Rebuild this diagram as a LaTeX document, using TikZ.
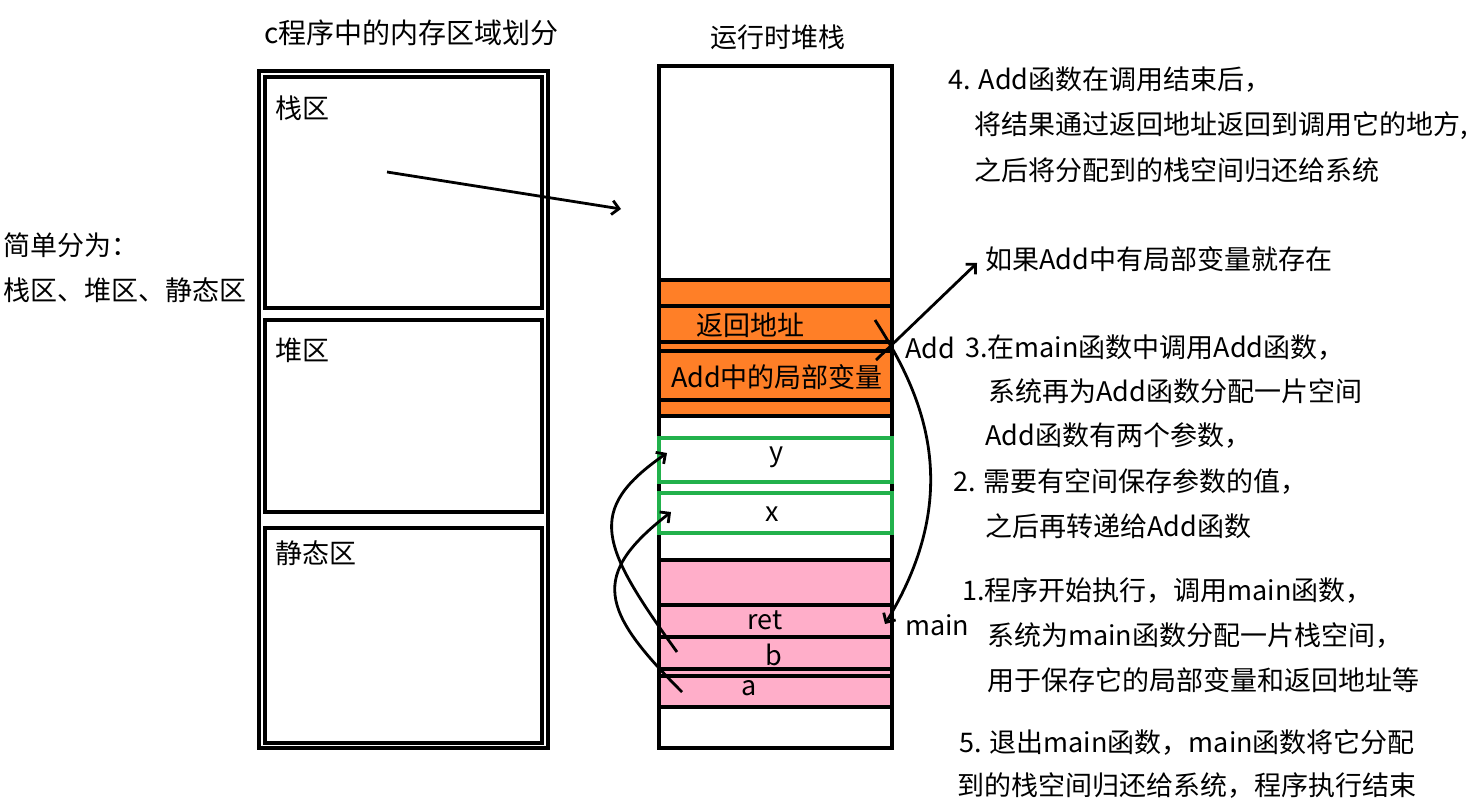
\documentclass[tikz,border=0pt]{standalone}
\usepackage{fontspec}
\setmainfont{Noto Sans CJK SC}
\usetikzlibrary{arrows.meta}
\definecolor{addorange}{RGB}{255,127,39}
\definecolor{mainpink}{RGB}{255,174,201}
\definecolor{paramgreen}{RGB}{34,177,76}
\begin{document}
\begin{tikzpicture}[x=1pt,y=-1pt,
  txt/.style={anchor=west,inner sep=0pt,font=\fontsize{27}{31}\selectfont},
  ctxt/.style={anchor=center,inner sep=0pt,font=\fontsize{27}{31}\selectfont},
  frame/.style={draw=black,line width=3.4pt},
  sep/.style={draw=black,line width=3.4pt},
  gbox/.style={draw=paramgreen,line width=3.2pt},
  conn/.style={draw=black,line width=2.8pt,-{Straight Barb[length=7pt,width=14pt]}},
]
\useasboundingbox (0,0) rectangle (1474,808);
% memory regions
\draw[frame] (259,71) rectangle (548,748);
\draw[frame] (265,77) rectangle (542,308);
\draw[frame] (265,320) rectangle (542,512);
\draw[frame] (265,528) rectangle (542,743);
\node[txt,font=\fontsize{28}{32}\selectfont] (title1) at (264,33) {c程序中的内存区域划分};
\node[txt] (zhan) at (275,108) {栈区};
\node[txt] (dui) at (275,350) {堆区};
\node[txt] (jingtai) at (275,553) {静态区};
\node[txt] (simple1) at (3,245) {简单分为：};
\node[txt] (simple2) at (3,290) {栈区、堆区、静态区};
% runtime stack
\fill[addorange] (659,280) rectangle (892,416);
\fill[mainpink] (659,560) rectangle (892,707);
\draw[frame] (659,66) rectangle (892,748);
\foreach \yy in {280,306,342,351,400,416,560,605,637,669,676,707}
  \draw[sep] (659,\yy) -- (892,\yy);
\draw[gbox] (659,438) rectangle (892,482);
\draw[gbox] (659,493) rectangle (892,533);
\node[txt] (title2) at (710,37) {运行时堆栈};
\node[ctxt] (retaddr) at (750,325) {返回地址};
\node[ctxt] (addlocal) at (777,377) {Add中的局部变量};
\node[ctxt] (vy) at (777,457) {y};
\node[ctxt] (vx) at (772,514) {x};
\node[ctxt] (vret) at (765,620) {ret};
\node[ctxt] (vb) at (774,655) {b};
\node[ctxt] (va) at (749,688) {a};
% right-hand notes
\node[txt] (n4a) at (948,80) {4. Add函数在调用结束后，};
\node[txt] (n4b) at (974,126) {将结果通过返回地址返回到调用它的地方,};
\node[txt] (n4c) at (974,170) {之后将分配到的栈空间归还给系统};
\node[txt] (nloc) at (985,259) {如果Add中有局部变量就存在};
\node[txt] (addlbl) at (905,348) {Add};
\node[txt] (n3a) at (965,348) {3.在main函数中调用Add函数，};
\node[txt] (n3b) at (988,391) {系统再为Add函数分配一片空间};
\node[txt] (n3c) at (985,436) {Add函数有两个参数，};
\node[txt] (n2a) at (953,482) {2. 需要有空间保存参数的值，};
\node[txt] (n2b) at (985,526) {之后再转递给Add函数};
\node[txt] (n1a) at (962,591) {1.程序开始执行，调用main函数，};
\node[txt] (mainlbl) at (905,625) {main};
\node[txt] (n1b) at (987,636) {系统为main函数分配一片栈空间，};
\node[txt] (n1c) at (987,680) {用于保存它的局部变量和返回地址等};
\node[txt] (n5a) at (959,742) {5. 退出main函数，main函数将它分配};
\node[txt] (n5b) at (957,786) {到的栈空间归还给系统，程序执行结束};
% connectors
\coordinate (s1) at (387,172);
\coordinate (e1) at (621,209);
\draw[conn] (s1) -- (e1);
\coordinate (s2) at (876,360);
\coordinate (e2) at (977,263);
\draw[conn] (s2) -- (e2);
\coordinate (s3) at (875,320);
\coordinate (e3) at (885,624);
\draw[conn] (s3) .. controls (920,390) and (968,488) .. (e3);
\coordinate (s4) at (677,652);
\coordinate (e4) at (667,453);
\draw[conn] (s4) .. controls (600,545) and (585,510) .. (e4);
\coordinate (s5) at (682,692);
\coordinate (e5) at (671,512);
\draw[conn] (s5) .. controls (600,610) and (590,575) .. (e5);
\end{tikzpicture}
\end{document}
